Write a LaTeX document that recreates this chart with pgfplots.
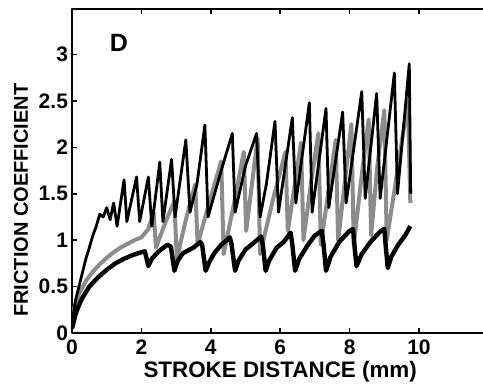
\documentclass[border=0pt]{standalone}
\usepackage{fontspec}
\setmainfont{Liberation Sans}
\usepackage{pgfplots}
\pgfplotsset{compat=1.18}
\begin{document}
\begin{tikzpicture}
\begin{axis}[
  name=ax,
  scale only axis,
  width=208.2pt, height=162pt,
  xmin=0, xmax=12, ymin=0, ymax=3.49,
  xtick={0,2,4,6,8,10},
  ytick={0,0.5,1,1.5,2,2.5,3},
  tick align=inside,
  major tick length=2.5pt,
  axis line style={line width=1.2pt},
  tick style={line width=0.8pt,black},
  /pgf/number format/assume math mode=true,
  tick label style={font=\fontsize{10.5}{12}\selectfont\bfseries},
  xticklabel style={yshift=0pt},
  yticklabel style={xshift=1.5pt},
  xlabel={STROKE DISTANCE (mm)},
  ylabel={FRICTION COEFFICIENT},
  xlabel style={font=\fontsize{11.2}{12}\selectfont\bfseries, at={(axis description cs:0.5,0)}, anchor=center, yshift=-19.6pt},
  ylabel style={font=\fontsize{10}{11}\selectfont\bfseries, at={(axis description cs:-0.1225,0.41)}, anchor=center},
  line join=round,
]
% middle gray series
\addplot[black!45, line width=2pt] coordinates {
(0,0.2)(0.2,0.42)(0.4,0.56)(0.6,0.66)(0.8,0.74)(1.0,0.81)(1.2,0.87)(1.4,0.92)(1.6,0.96)(1.8,1.0)(2.0,1.03)
(2.2,1.12)(2.35,1.3)(2.42,0.92)(2.7,1.2)(2.95,1.42)(3.02,0.8)(3.3,1.25)(3.55,1.6)(3.62,0.95)(3.95,1.4)(4.3,1.85)(4.37,0.85)
(4.7,1.45)(4.95,1.95)(5.02,1.1)(5.35,2.1)(5.42,0.85)(5.8,1.45)(6.15,1.95)(6.22,1.1)(6.6,2.05)(6.67,1.0)(6.9,1.65)(7.1,2.15)(7.17,0.95)
(7.4,1.55)(7.6,2.08)(7.67,1.0)(7.9,1.75)(8.05,2.25)(8.12,0.95)(8.35,1.7)(8.55,2.3)(8.62,1.05)(8.8,1.8)(9.0,2.4)(9.07,1.0)
(9.4,1.8)(9.68,2.5)(9.75,1.4)
};
% top dark series
\addplot[black, line width=1.4pt] coordinates {
(0,0.1)(0.1,0.35)(0.2,0.5)(0.3,0.65)(0.4,0.8)(0.5,0.92)(0.6,1.05)(0.7,1.15)(0.8,1.28)(0.9,1.25)(1.0,1.35)(1.1,1.22)(1.2,1.4)(1.3,1.15)
(1.5,1.65)(1.58,1.2)(1.86,1.68)(1.95,1.2)(2.2,1.68)(2.3,1.15)(2.53,1.84)(2.62,1.2)(2.87,1.87)(2.97,1.25)(3.28,2.08)(3.4,1.3)(3.6,1.6)
(3.83,2.24)(3.92,1.25)(4.3,1.75)(4.62,2.15)(4.7,1.3)(5.0,1.8)(5.32,2.15)(5.42,1.25)(5.6,1.6)(5.85,2.28)(5.95,1.3)(6.35,2.32)(6.45,1.4)
(6.84,2.48)(6.92,1.3)(7.32,2.42)(7.4,1.35)(7.8,2.38)(7.9,1.4)(8.35,2.6)(8.45,1.45)(8.78,2.58)(8.88,1.45)(9.29,2.8)(9.38,1.5)(9.72,2.9)(9.76,1.5)
};
% bottom black series
\addplot[black, line width=2.2pt] coordinates {
(0,0.05)(0.05,0.12)(0.1,0.2)(0.2,0.3)(0.3,0.38)(0.5,0.5)(0.75,0.6)(1.0,0.68)(1.25,0.75)(1.5,0.8)(1.75,0.84)(2.0,0.87)(2.1,0.88)
(2.2,0.72)(2.3,0.8)(2.5,0.88)(2.75,0.95)(2.85,0.93)(2.95,0.67)(3.05,0.78)(3.2,0.86)(3.5,0.92)(3.7,0.98)(3.75,0.95)(3.85,0.67)
(3.95,0.76)(4.1,0.86)(4.3,0.95)(4.55,1.03)(4.6,0.95)(4.7,0.67)(4.8,0.78)(5.0,0.9)(5.2,0.96)(5.45,1.04)(5.5,0.95)(5.58,0.67)
(5.68,0.78)(5.9,0.92)(6.1,0.98)(6.3,1.08)(6.35,0.95)(6.43,0.67)(6.55,0.8)(6.8,0.95)(7.0,1.05)(7.2,1.1)(7.25,0.95)(7.32,0.67)
(7.45,0.82)(7.7,0.98)(8.0,1.1)(8.1,1.12)(8.15,0.9)(8.2,0.72)(8.35,0.85)(8.6,0.98)(8.9,1.1)(9.0,1.12)(9.05,0.9)(9.1,0.7)
(9.2,0.82)(9.4,0.95)(9.6,1.05)(9.75,1.15)
};
\node[font=\fontsize{12.5}{13}\selectfont\bfseries] at (axis cs:1.35,3.13) {D};
\end{axis}
\pgfresetboundingbox
\path[use as bounding box] ([xshift=-36pt,yshift=-26.5pt]ax.south west) rectangle ([xshift=-2.7pt,yshift=4.5pt]ax.north east);
\end{tikzpicture}
\end{document}
